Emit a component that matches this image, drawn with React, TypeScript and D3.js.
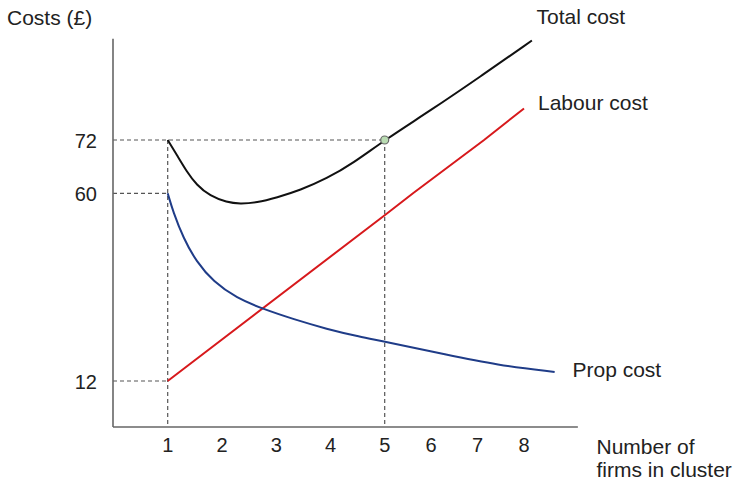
import React from "react";
import * as d3 from "d3";

// ---- Data (schematic axes) ----
const xTicks = [1, 2, 3, 4, 5, 6, 7, 8];
const yTicks = [12, 60, 72];

// Total cost: [firms, cost]
const totalCost: [number, number][] = [
  [1, 72], [1.17, 68.6], [1.35, 64.9], [1.53, 61.9], [1.78, 59.3], [2.09, 57.7],
  [2.33, 57.3], [2.64, 57.6], [3.01, 58.9], [3.44, 60.7], [3.93, 63.3], [4.42, 66.8],
  [5, 72], [5.98, 78.6], [7.05, 86.2], [8.17, 94.4],
];
// Labour cost (straight on the drawing)
const labourCost: [number, number][] = [
  [1, 12], [5, 54.4], [5.61, 60], [7.14, 72], [8, 79.1],
];
// Prop cost
const propCost: [number, number][] = [
  [1, 60], [1.1, 55.3], [1.29, 48.5], [1.53, 42.5], [1.84, 37.4], [2.27, 33.2],
  [2.76, 30.4], [3.32, 27.8], [3.93, 25.3], [4.54, 23.3], [5, 22.1], [6.34, 18.7],
  [7.41, 16.1], [8.66, 14.3],
];
const equalPoint: [number, number] = [5, 72];
const seriesLabels = ["Total cost", "Labour cost", "Prop cost"];

const W = 738;
const H = 481;
const FONT = "'Liberation Sans', Arial, Helvetica, sans-serif";

export default function App() {
  // piecewise (schematic) scales
  const x = d3.scaleLinear().domain([0, 1, 5, 8]).range([113, 167.7, 384.7, 524]);
  const y = d3.scaleLinear().domain([0, 12, 60, 72]).range([427, 381, 193.3, 140]);
  const xMax = 9.16;
  const yMax = 94.8;

  const smooth = d3
    .line<[number, number]>()
    .x((d) => x(d[0]))
    .y((d) => y(d[1]))
    .curve(d3.curveBasis);
  const straight = d3
    .line<[number, number]>()
    .x((d) => x(d[0]))
    .y((d) => y(d[1]));

  const axisColor = "#666";
  const dash = "#555";
  const textColor = "#222";

  return (
    <svg
      width={W}
      height={H}
      style={{ position: "absolute", left: 0, top: 0, background: "#fff" }}
      fontFamily={FONT}
    >
      {/* guide dashed lines */}
      <g stroke={dash} strokeWidth={1.2} strokeDasharray="4,3" fill="none">
        <line x1={x(0)} x2={x(equalPoint[0])} y1={y(72)} y2={y(72)} />
        <line x1={x(0)} x2={x(1)} y1={y(60)} y2={y(60)} />
        <line x1={x(0)} x2={x(1)} y1={y(12)} y2={y(12)} />
        <line x1={x(1)} x2={x(1)} y1={y(72)} y2={y(0)} />
        <line x1={x(5)} x2={x(5)} y1={y(72)} y2={y(0)} />
      </g>

      {/* axes */}
      <line x1={x(0)} x2={x(0)} y1={y(yMax)} y2={y(0)} stroke={axisColor} strokeWidth={1.6} />
      <line x1={x(0)} x2={x(xMax)} y1={y(0)} y2={y(0)} stroke={axisColor} strokeWidth={1.6} />

      {/* x tick labels */}
      {xTicks.map((t) => (
        <text key={"x" + t} x={x(t)} y={452} textAnchor="middle" fontSize={20} fill={textColor}>
          {t}
        </text>
      ))}
      {/* y tick labels */}
      {yTicks.map((t) => (
        <text key={"y" + t} x={97} y={y(t) + 8} textAnchor="end" fontSize={20} fill={textColor}>
          {t}
        </text>
      ))}

      {/* curves */}
      <path d={straight(labourCost) || ""} fill="none" stroke="#d7191c" strokeWidth={2} />
      <path d={smooth(propCost) || ""} fill="none" stroke="#1f3c88" strokeWidth={2} />
      <path d={smooth(totalCost) || ""} fill="none" stroke="#111" strokeWidth={2} />

      {/* equality point */}
      <circle
        cx={x(equalPoint[0])}
        cy={y(equalPoint[1])}
        r={4}
        fill="#b9dcb2"
        stroke="#6a6a6a"
        strokeWidth={1.2}
      />

      {/* labels */}
      <text x={7} y={25} fontSize={21} fill={textColor}>Costs (£)</text>
      <text x={536.5} y={24} fontSize={21} fill={textColor}>{seriesLabels[0]}</text>
      <text x={538} y={110} fontSize={21} fill={textColor}>{seriesLabels[1]}</text>
      <text x={572.5} y={377} fontSize={21} fill={textColor}>{seriesLabels[2]}</text>
      <text x={596.5} y={454} fontSize={21} fill={textColor}>Number of</text>
      <text x={596.5} y={477} fontSize={21} fill={textColor}>firms in cluster</text>
    </svg>
  );
}
